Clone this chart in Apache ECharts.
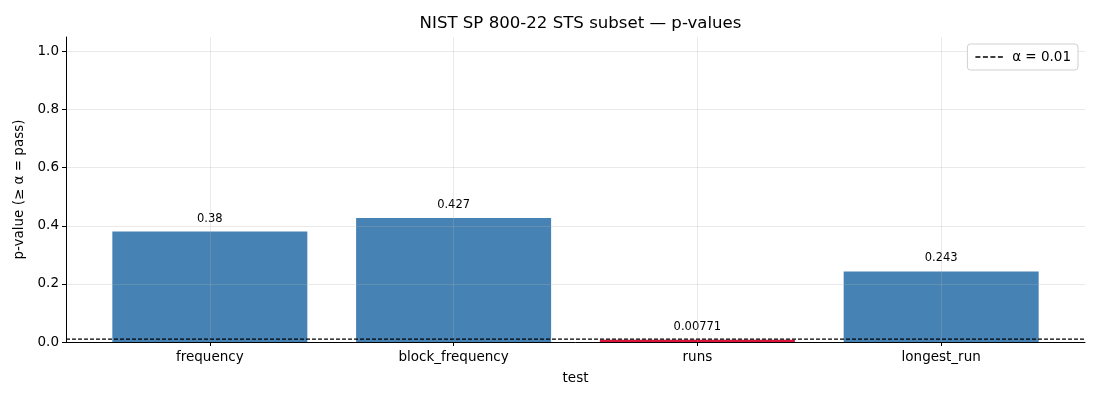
<!DOCTYPE html>
<html>
<head>
<meta charset="utf-8">
<script src="https://cdn.jsdelivr.net/npm/echarts@6/dist/echarts.min.js"></script>
<style>
  html, body { margin: 0; padding: 0; background: #fff; }
  #chart { width: 1100px; height: 400px; }
</style>
</head>
<body>
<div id="chart"></div>
<script>
const tests = ['frequency', 'block_frequency', 'runs', 'longest_run']
const pValues = [0.38, 0.427, 0.00771, 0.243]
const valueLabels = ['0.38', '0.427', '0.00771', '0.243']
const alpha = 0.01
const yTicks = [0, 0.2, 0.4, 0.6, 0.8, 1.0]

const passColor = '#4682b4'
const failColor = 'crimson'
const gridColor = 'rgba(176,176,176,0.35)'
const font = 'DejaVu Sans'

const positions = tests.map((t, i) => i)
const xMin = -0.59
const xMax = 3.59

const barData = pValues.map((v, i) => ({
  value: [i, v],
  itemStyle: { color: v >= alpha ? passColor : failColor },
  label: { formatter: valueLabels[i] }
}))

// four short dashes, like the dashed legend handle
const dashIcon = 'path://M0,0h5v1.5h-5z M7.5,0h5v1.5h-5z M15,0h5v1.5h-5z M22.5,0h5v1.5h-5z'

const chart = echarts.init(document.getElementById('chart'))
chart.setOption({
  animation: false,
  textStyle: { fontFamily: font },
  title: {
    text: 'NIST SP 800-22 STS subset \u2014 p-values',
    left: 575.5,
    top: 10,
    textAlign: 'center',
    textStyle: { fontFamily: font, fontSize: 16.6, fontWeight: 'normal', color: '#000' }
  },
  legend: {
    data: [{ name: '\u03b1 = 0.01', icon: dashIcon }],
    right: 22,
    top: 44,
    padding: [6, 7, 6, 8],
    itemWidth: 28,
    itemHeight: 1.5,
    itemGap: 5,
    borderColor: '#d0d0d0',
    borderWidth: 1,
    borderRadius: 3,
    backgroundColor: '#fff',
    itemStyle: { color: '#000' },
    textStyle: { fontFamily: font, fontSize: 13.5, color: '#000', padding: [0, 0, 0, 4] }
  },
  grid: { left: 66, right: 15, top: 37, bottom: 58 },
  xAxis: {
    type: 'value',
    min: xMin,
    max: xMax,
    name: 'test',
    nameLocation: 'middle',
    nameGap: 29,
    nameTextStyle: { fontFamily: font, fontSize: 13.5, color: '#000' },
    axisLine: { onZero: false, lineStyle: { color: '#000', width: 1 } },
    axisTick: { customValues: positions, length: 4, lineStyle: { color: '#000' } },
    axisLabel: {
      customValues: positions,
      formatter: (v) => tests[Math.round(v)] || '',
      fontFamily: font,
      fontSize: 13.5,
      color: '#000',
      margin: 8
    },
    splitLine: { show: true, lineStyle: { color: gridColor, width: 0.8 } }
  },
  yAxis: {
    type: 'value',
    min: 0,
    max: 1.05,
    name: 'p-value (\u2265 \u03b1 = pass)',
    nameLocation: 'middle',
    nameGap: 36,
    nameTextStyle: { fontFamily: font, fontSize: 13.5, color: '#000' },
    axisLine: { show: true, onZero: false, lineStyle: { color: '#000', width: 1 } },
    axisTick: { show: true, customValues: yTicks, length: 4, lineStyle: { color: '#000' } },
    axisLabel: {
      customValues: yTicks,
      formatter: (v) => v.toFixed(1),
      fontFamily: font,
      fontSize: 13.5,
      color: '#000',
      margin: 7
    },
    splitLine: { show: true, lineStyle: { color: gridColor, width: 0.8 } }
  },
  series: [
    {
      type: 'bar',
      data: barData,
      barWidth: 195,
      z: -1,
      label: {
        show: true,
        position: 'top',
        distance: 7,
        fontFamily: font,
        fontSize: 11.5,
        color: '#000'
      }
    },
    {
      name: '\u03b1 = 0.01',
      type: 'line',
      data: [[xMin, alpha], [xMax, alpha]],
      symbol: 'none',
      z: 5,
      lineStyle: { color: '#000', width: 1.1, type: [4, 2] },
      itemStyle: { color: '#000' }
    }
  ]
})
</script>
</body>
</html>
